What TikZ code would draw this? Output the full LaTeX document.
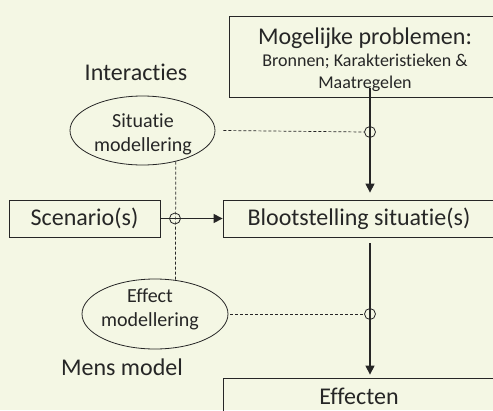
\documentclass[tikz,border=0pt]{standalone}
\usepackage{fontspec}
\setmainfont{Carlito}[Ligatures={NoCommon}]
\usetikzlibrary{shapes.geometric,arrows.meta}
\definecolor{bgpaper}{HTML}{F4F7E4}
\definecolor{inkline}{HTML}{262626}

\begin{document}
\begin{tikzpicture}[x=1pt,y=-1pt,
    box/.style={draw=inkline,line width=0.8pt,rectangle,inner sep=0pt,text=inkline,font=\fontsize{24}{28}\selectfont},
    oval/.style={draw=inkline,line width=0.8pt,ellipse,inner sep=0pt},
    label/.style={text=inkline,font=\fontsize{24}{28}\selectfont},
    ovaltext/.style={text=inkline,align=center,inner sep=0pt,font=\fontsize{20}{24}\selectfont},
    junction/.style={draw=inkline,circle,minimum size=11pt,inner sep=0pt,line width=0.8pt},
    flow/.style={draw=inkline,line width=1.2pt,-{Triangle[length=9pt,width=9pt]}},
    link/.style={draw=inkline,line width=0.7pt,dash pattern=on 3pt off 2pt}]

\useasboundingbox (0,0) rectangle (493,410);
\fill[bgpaper] (0,0) rectangle (493,410);
\clip (0,0) rectangle (493,410);

\node[box,minimum width=272pt,minimum height=81pt] (prob) at (365,56.5) {};
\node[label,align=center,inner sep=0pt] (probtxt) at (365,60)
    {Mogelijke problemen:\\[-6pt] \fontsize{18}{21}\selectfont Bronnen; Karakteristieken \&\\[-6pt] \fontsize{18}{21}\selectfont Maatregelen};
\node[box,minimum width=272pt,minimum height=37pt] (bloot) at (359,218.5) {Blootstelling situatie(s)};
\node[box,minimum width=272pt,minimum height=36pt] (eff) at (359,396) {Effecten};
\node[box,minimum width=151pt,minimum height=37pt] (scen) at (84.5,218.5) {Scenario(s)};

\node[oval,minimum width=145pt,minimum height=69pt] (sitmod) at (142.5,130.5) {};
\node[ovaltext] (sittxt) at (143,134) {Situatie\\modellering};
\node[oval,minimum width=146pt,minimum height=70pt] (effmod) at (155,314) {};
\node[ovaltext] (efftxt) at (150,309) {Effect\\modellering};
\node[label] (inter) at (136,72) {Interacties};
\node[label] (mens) at (122,367) {Mens model};

\node[junction] (j1) at (370,132) {};
\node[junction] (j2) at (175,218.5) {};
\node[junction] (j3) at (370,314) {};

\draw[flow,shorten >=7pt] ([yshift=9pt]prob.south -| j1) -- (bloot.north -| j1);
\draw[flow,shorten <=6pt,shorten >=3pt] (bloot.south -| j3) -- (eff.north -| j3);
\draw[flow] (scen.east) -- (bloot.west);
\draw[link] ([xshift=8pt]sitmod.east) -- (j1.west);
\draw[link] ([xshift=2pt]effmod.east) -- (j3.west);
\draw[link] (sitmod.-43.5) -- (effmod.59.5);

\end{tikzpicture}
\end{document}
